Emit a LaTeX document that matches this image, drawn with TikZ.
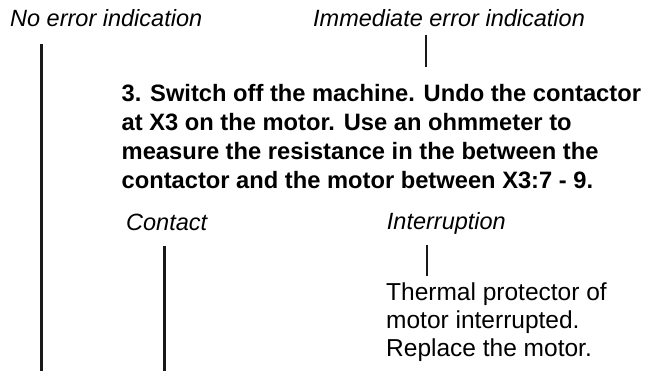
\documentclass[tikz,border=0pt]{standalone}
\usepackage{fontspec}
\setmainfont{Liberation Sans}
\begin{document}
\begin{tikzpicture}[x=1pt,y=-1pt,
  lbl/.style={anchor=base west, inner sep=0pt, font=\fontsize{23.5}{28}\selectfont\itshape},
  stepbox/.style={anchor=base west, inner sep=0pt, font=\fontsize{23.7}{28.8}\selectfont\bfseries},
  result/.style={anchor=base west, inner sep=0pt, font=\fontsize{24.5}{27.8}\selectfont},
  conn/.style={line width=2.2pt, draw=black!90}]
\useasboundingbox (0,0) rectangle (645,371);
% labels
\node[lbl] (noerr) at (10,27) {No error indication};
\node[lbl] (imm) at (313,27) {Immediate error indication};
\node[stepbox] (step3) at (121.5,101.7) {\vtop{\hbox{3. Switch off the machine. Undo the contactor}\hbox{at X3 on the motor. Use an ohmmeter to}\hbox{measure the resistance in the between the}\hbox{contactor and the motor between X3:7 - 9.}}};
\node[lbl] (contact) at (126,230.7) {Contact};
\node[lbl] (interr) at (386.7,229.3) {Interruption};
\node[result] (thermal) at (386,301) {\vtop{\hbox{Thermal protector of}\hbox{motor interrupted.}\hbox{Replace the motor.}}};
% connector ends
\coordinate (a0) at (41.5,44);
\coordinate (a1) at (41.5,371);
\coordinate (b0) at (426,35);
\coordinate (b1) at (426,67);
\coordinate (c0) at (164.5,246);
\coordinate (c1) at (164.5,371);
\coordinate (d0) at (427,245);
\coordinate (d1) at (427,276);
\draw[conn] (a0) -- (a1);
\draw[conn] (b0) -- (b1);
\draw[conn] (c0) -- (c1);
\draw[conn] (d0) -- (d1);
\end{tikzpicture}
\end{document}
